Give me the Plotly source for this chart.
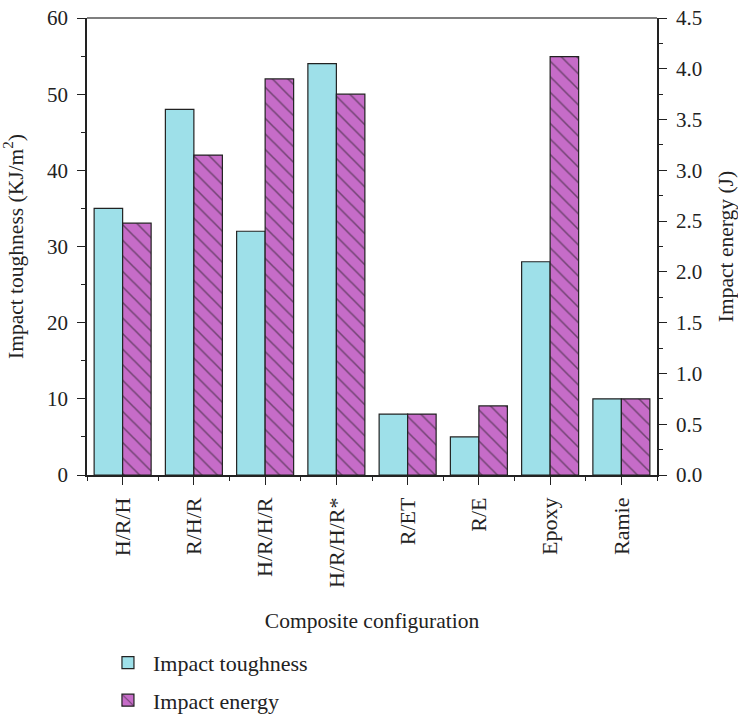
import plotly.graph_objects as go

categories = ["H/R/H", "R/H/R", "H/R/H/R", "H/R/H/R*", "R/ET", "R/E", "Epoxy", "Ramie"]
toughness = [35, 48, 32, 54, 8, 5, 28, 10]
energy = [2.48, 3.15, 3.90, 3.75, 0.60, 0.68, 4.12, 0.75]

xpos = list(range(len(categories)))
FONT = "Liberation Serif"
AX = "#222222"

fig = go.Figure()
fig.add_trace(go.Bar(
    x=xpos, y=toughness, name="Impact toughness", offsetgroup="1", legendgroup="a",
    marker=dict(color="#9EE0E9", line=dict(color=AX, width=1.2)),
    yaxis="y",
))
fig.add_trace(go.Bar(
    x=xpos, y=energy, name="Impact energy", offsetgroup="2", legendgroup="b",
    marker=dict(color="#C66CC8", line=dict(color=AX, width=1.2),
                pattern=dict(shape="\\", fgcolor="#1a1a1a", bgcolor="#C66CC8",
                             size=11, solidity=0.14, fillmode="overlay")),
    yaxis="y2",
))

fig.update_layout(
    width=738, height=718,
    margin=dict(l=87, r=81, t=18, b=243, autoexpand=False),
    paper_bgcolor="white", plot_bgcolor="white",
    font=dict(family=FONT, size=21, color="#222"),
    barmode="group", bargap=0.2, bargroupgap=0,
    showlegend=True,
    legend=dict(x=0.028, y=-0.365, xanchor="left", yanchor="top",
                orientation="v", font=dict(size=22), tracegroupgap=6,
                itemwidth=40),
    xaxis=dict(
        range=[-0.5, len(categories) - 0.5], automargin=False,
        tickmode="array", tickvals=xpos, ticktext=categories,
        tickangle=-90, ticks="outside", ticklen=8, tickwidth=1.2, tickcolor=AX,
        ticklabelstandoff=4,
        showline=True, linecolor=AX, linewidth=1.5, mirror=False,
        showgrid=False, zeroline=False,
        minor=dict(tickmode="array",
                   tickvals=[i - 0.5 for i in range(len(categories) + 1)],
                   ticks="outside", ticklen=4, tickcolor=AX, showgrid=False),
        title=dict(text="Composite configuration", font=dict(size=21.5), standoff=26),
        tickfont=dict(size=22),
    ),
    yaxis=dict(
        range=[0, 60], dtick=10, tick0=0, automargin=False,
        ticks="outside", ticklen=8, tickwidth=1.2, tickcolor=AX,
        ticklabelstandoff=5,
        showline=True, linecolor=AX, linewidth=1.5,
        showgrid=False, zeroline=False,
        minor=dict(dtick=5, ticks="outside", ticklen=4, tickcolor=AX, showgrid=False),
        title=dict(text="Impact toughness (KJ/m<sup>2</sup>)", font=dict(size=21.5), standoff=18),
        tickfont=dict(size=21),
    ),
    yaxis2=dict(
        range=[0, 4.5], dtick=0.5, tick0=0, tickformat=".1f", automargin=False,
        overlaying="y", side="right",
        ticks="outside", ticklen=8, tickwidth=1.2, tickcolor=AX,
        ticklabelstandoff=5,
        showline=True, linecolor=AX, linewidth=1.5,
        showgrid=False, zeroline=False,
        minor=dict(dtick=0.25, ticks="outside", ticklen=4, tickcolor=AX, showgrid=False),
        title=dict(text="Impact energy (J)", font=dict(size=21.5), standoff=23),
        tickfont=dict(size=21),
    ),
    shapes=[dict(type="line", xref="paper", yref="paper", x0=0, x1=1, y0=1, y1=1,
                 line=dict(color="#555555", width=1.5))],
)

fig.write_html("out.html", config={"displayModeBar": False},
               post_script="document.body.style.margin='0';")
